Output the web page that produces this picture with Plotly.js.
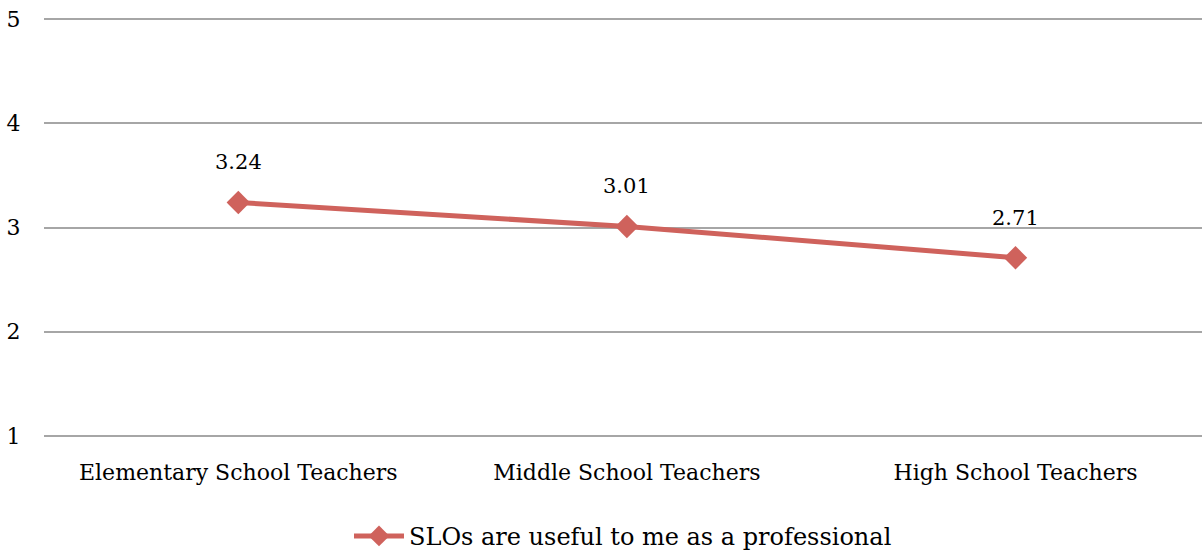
<!DOCTYPE html>
<html><head><meta charset="utf-8">
<script src="https://cdn.plot.ly/plotly-3.0.1.min.js"></script>
<style>body{margin:0;padding:0;background:#fff}#chart{width:1202px;height:550px}</style>
</head><body><div id="chart"></div>
<script>
const categories = ["Elementary School Teachers", "Middle School Teachers", "High School Teachers"];
const values = [3.24, 3.01, 2.71];
const valueLabels = ["3.24", "3.01", "2.71"];
const seriesName = "SLOs are useful to me as a professional";
const yTicks = [1, 2, 3, 4, 5];

const FONT = "DejaVu Serif, Liberation Serif, serif";
const LINE = "#cf625c";

const trace = {
  type: "scatter", mode: "lines+markers",
  x: categories, y: values, name: seriesName,
  line: {color: LINE, width: 5},
  marker: {symbol: "diamond", size: 18, color: LINE},
  hoverinfo: "skip"
};

const annotations = categories.map((c, i) => ({
  x: c, y: values[i], xref: "x", yref: "y", text: valueLabels[i],
  showarrow: false, yshift: 40, font: {family: FONT, size: 21, color: "#000"}
}));

const layout = {
  width: 1202, height: 550,
  margin: {l: 44, r: 0, t: 18, b: 113, pad: 0, autoexpand: false},
  paper_bgcolor: "#fff", plot_bgcolor: "#fff",
  font: {family: FONT, size: 22, color: "#000"},
  showlegend: true,
  legend: {orientation: "h", x: 0.5, xanchor: "center", y: -0.237, yanchor: "middle",
           font: {family: FONT, size: 24, color: "#000"}, itemwidth: 50},
  xaxis: {type: "category", range: [-0.5, 2.48], showgrid: false, zeroline: false, showline: false,
          automargin: false,
          ticks: "outside", ticklen: 16, tickcolor: "rgba(0,0,0,0)",
          tickfont: {family: FONT, size: 22, color: "#000"}},
  yaxis: {range: [0.99, 5.01], tickvals: yTicks, ticktext: yTicks.map(String),
          showgrid: true, gridcolor: "#a6a6a6", gridwidth: 2, zeroline: false, showline: false,
          automargin: false,
          ticks: "outside", ticklen: 18, tickcolor: "rgba(0,0,0,0)",
          tickfont: {family: FONT, size: 22, color: "#000"}},
  annotations: annotations
};

Plotly.newPlot("chart", [trace], layout, {displayModeBar: false, staticPlot: true});
</script></body></html>
